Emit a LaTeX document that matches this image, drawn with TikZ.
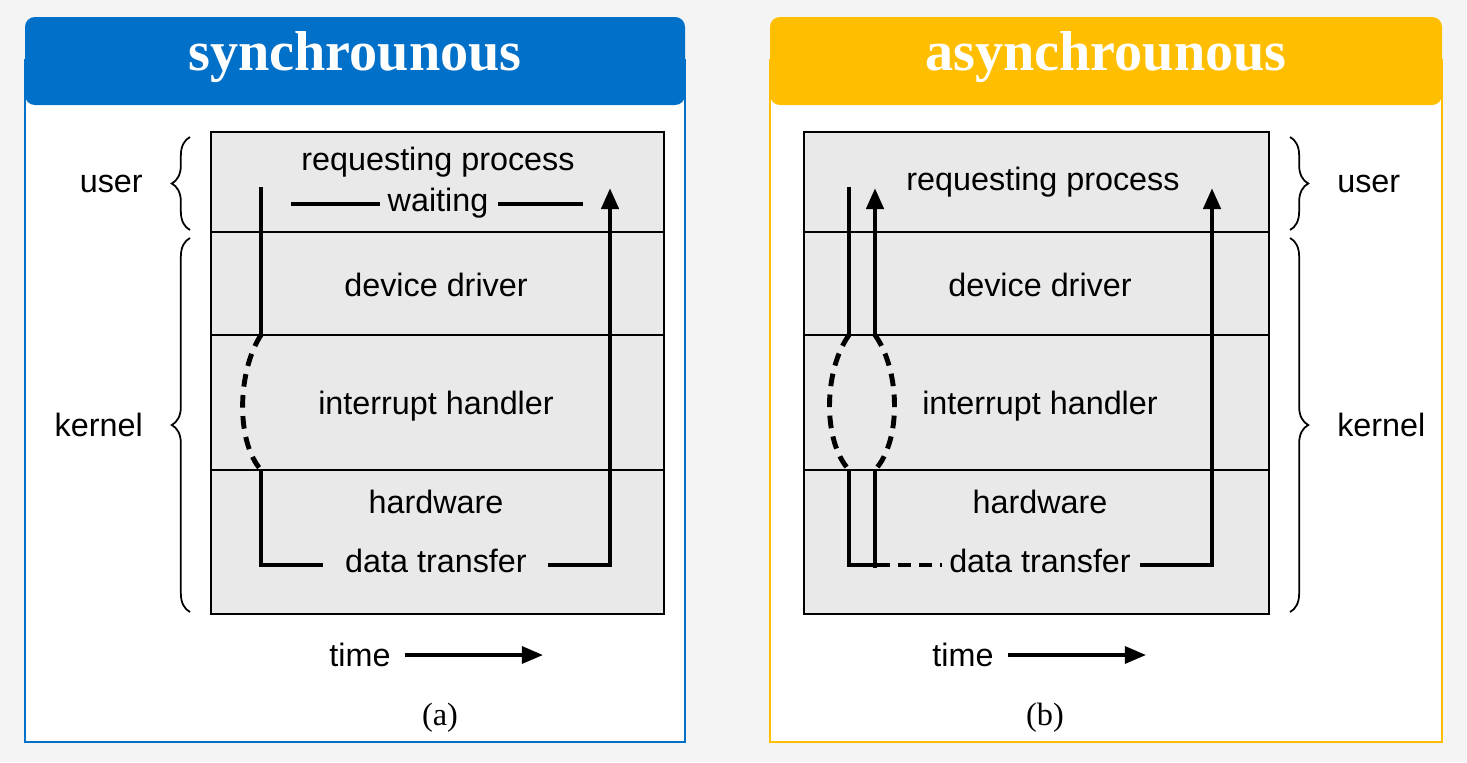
\documentclass[tikz,border=0pt]{standalone}
\usepackage{fontspec}
\setmainfont{Liberation Sans}
\newfontfamily\ser{Liberation Serif}
\usetikzlibrary{decorations.pathreplacing,arrows.meta}
\definecolor{bluh}{HTML}{0070C8}
\definecolor{orh}{HTML}{FFBF00}
\definecolor{bg}{HTML}{F4F4F4}
\definecolor{boxg}{HTML}{E9E9E9}
\begin{document}
\begin{tikzpicture}[x=0.05cm,y=-0.05cm,
  lab/.style={font=\fontsize{46}{50}\selectfont, inner sep=0pt},
  ttl/.style={font=\ser\bfseries\fontsize{80}{82}\selectfont, text=white, inner sep=0pt},
  sublab/.style={font=\ser\fontsize{46}{48}\selectfont, inner sep=0pt},
  thick line/.style={line width=7pt, line cap=butt, line join=miter},
  dashedl/.style={thick line, dash pattern=on 18pt off 12pt},
  arr/.style={thick line, -{Triangle[length=30pt,width=24pt]}},
  brace/.style={decorate, decoration={brace, amplitude=26pt}, line width=2.5pt},
  sep/.style={line width=2.5pt}]
\useasboundingbox (0,0) rectangle (1467,762);
\fill[bg] (0,0) rectangle (1467,762);
% panel frames
\draw[bluh, line width=2pt, fill=white] (25,60) rectangle (685,742);
\fill[bluh, rounded corners=14pt] (25,17) rectangle (685,105);
\node[ttl] (ta) at (355,57) {synchrounous};
\draw[orh, line width=2pt, fill=white] (770,60) rectangle (1442,742);
\fill[orh, rounded corners=14pt] (770,17) rectangle (1442,105);
\node[ttl] (tb) at (1106,57) {asynchrounous};
% ---- panel a
\draw[sep, fill=boxg] (211,132) rectangle (664,614);
\draw[sep] (211,232) -- (664,232) (211,335) -- (664,335) (211,470) -- (664,470);
\node[lab] (a1) at (438,162) {requesting process};
\node[lab] (a2) at (438,203) {waiting};
\node[lab] (a3) at (436,285) {device driver};
\node[lab] (a4) at (436,406) {interrupt handler};
\node[lab] (a5) at (436,502) {hardware};
\node[lab] (a6) at (436,561) {data transfer};
\coordinate (as) at (261,187);
\coordinate (ad1) at (261,335);
\coordinate (ad2) at (261,470);
\coordinate (ac) at (261,565);
\draw[thick line] (as) -- (ad1);
\draw[dashedl] (ad1) .. controls (238,370) and (235,440) .. (ad2);
\draw[thick line] (ad2) -- (ac) -- (323,565);
\draw[arr] (548,565) -- (610,565) -- (610,188);
\draw[thick line] (291,204) -- (380,204) (498,204) -- (583,204);
\draw[brace] (190,230) -- node[lab, left=66pt] (au) {user} (190,137);
\draw[brace] (190,612) -- node[lab, left=66pt] (ak) {kernel} (190,238);
\node[lab] (at) at (360,655) {time};
\draw[arr, line width=5pt] (405,655) -- (543,655);
\node[sublab] (ca) at (440,718) {(a)};
% ---- panel b
\draw[sep, fill=boxg] (804,132) rectangle (1269,614);
\draw[sep] (804,232) -- (1269,232) (804,335) -- (1269,335) (804,470) -- (1269,470);
\node[lab] (b1) at (1043,182) {requesting process};
\node[lab] (b3) at (1040,285) {device driver};
\node[lab] (b4) at (1040,406) {interrupt handler};
\node[lab] (b5) at (1040,502) {hardware};
\node[lab] (b6) at (1040,561) {data transfer};
\draw[thick line] (849,187) -- (849,335);
\draw[arr] (875,335) -- (875,188);
\draw[dashedl] (849,335) .. controls (824,370) and (822,440) .. (849,470);
\draw[dashedl] (875,335) .. controls (900,370) and (902,440) .. (875,470);
\draw[thick line] (849,470) -- (849,565) -- (877,565);
\draw[thick line] (875,470) -- (875,568);
\draw[thick line, dash pattern=on 18pt off 12pt] (877,565) -- (942,565);
\draw[arr] (1140,565) -- (1212,565) -- (1212,188);
\draw[brace] (1290,137) -- node[lab, right=66pt] (bu) {user} (1290,230);
\draw[brace] (1290,238) -- node[lab, right=66pt] (bk) {kernel} (1290,612);
\node[lab] (bt) at (963,655) {time};
\draw[arr, line width=5pt] (1008,655) -- (1146,655);
\node[sublab] (cb) at (1045,718) {(b)};
\end{tikzpicture}
\end{document}
